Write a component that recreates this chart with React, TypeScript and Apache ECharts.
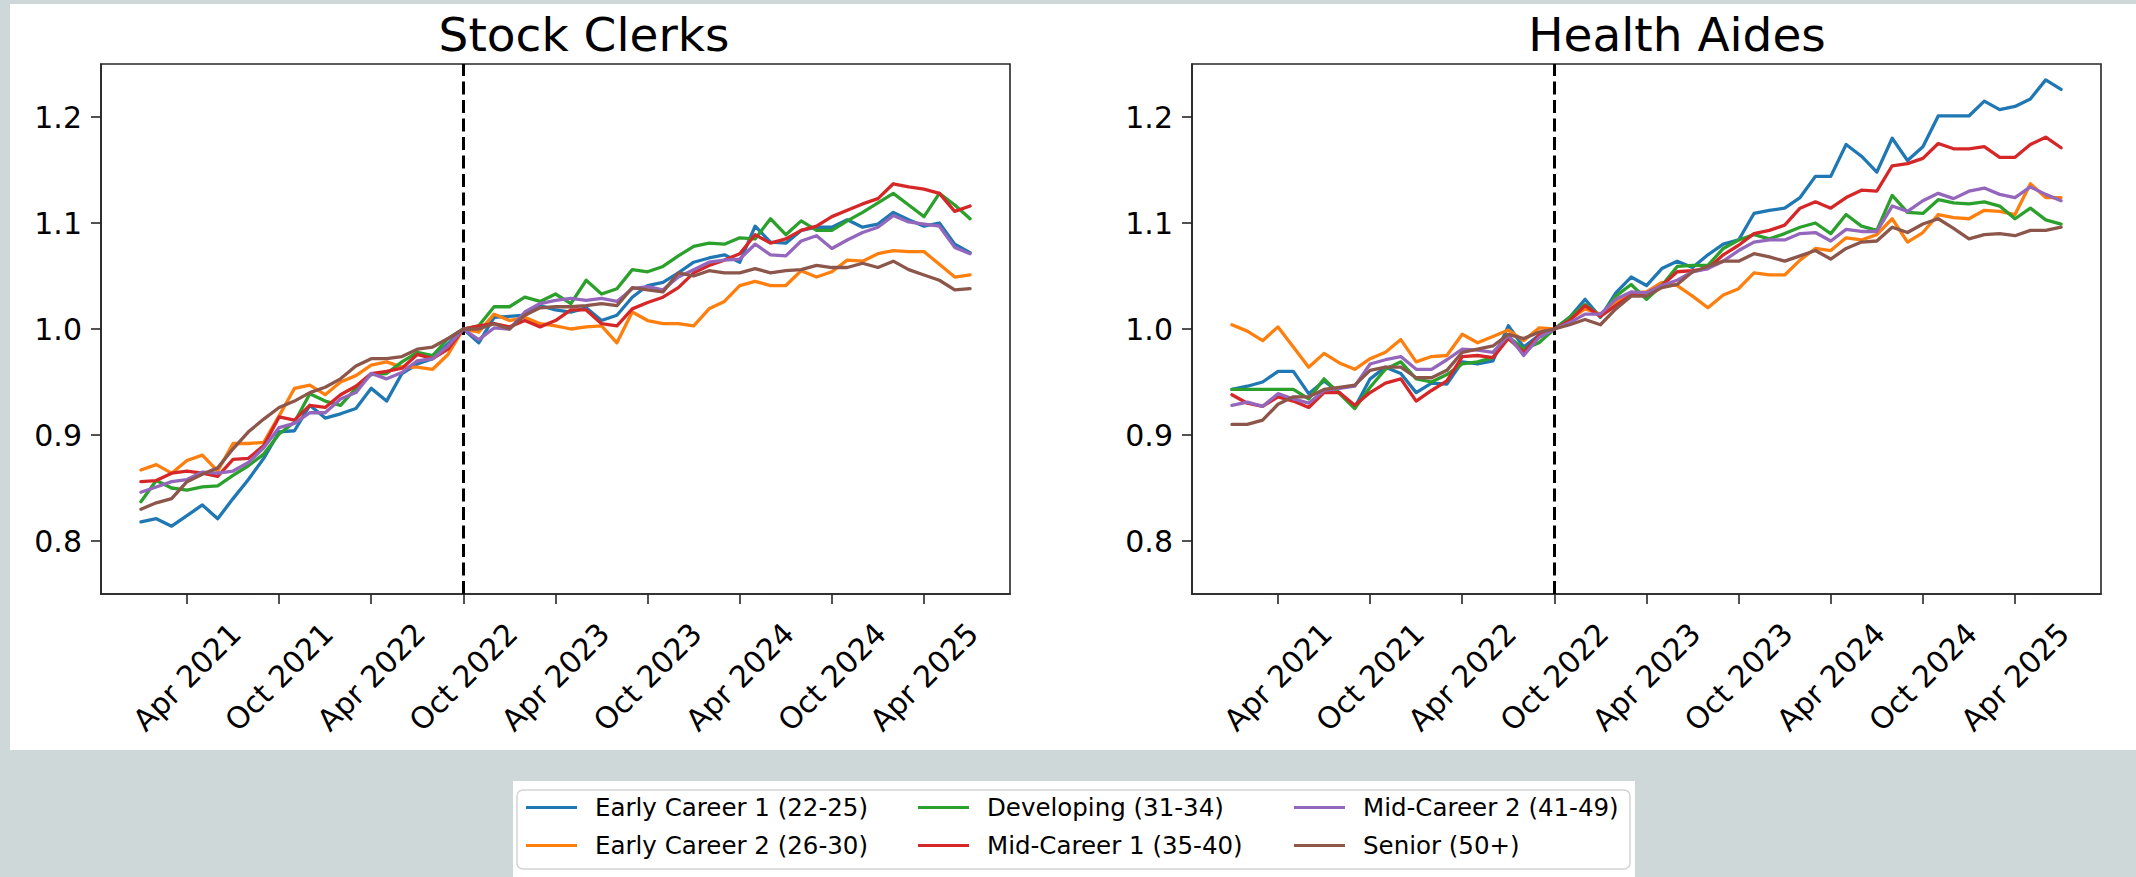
import React, { useEffect, useRef } from "react";
import * as echarts from "echarts";

// ---------- data ----------
const seriesNames = [
  "Early Career 1 (22-25)",
  "Early Career 2 (26-30)",
  "Developing (31-34)",
  "Mid-Career 1 (35-40)",
  "Mid-Career 2 (41-49)",
  "Senior (50+)",
];
const seriesColors = ["#1f77b4", "#ff7f0e", "#2ca02c", "#d62728", "#9467bd", "#8c564b"];
const panelTitles = ["Stock Clerks", "Health Aides"];

// month index 0 = Jan 2021 ... 54 = Jul 2025
const tickMonthIndex = [3, 9, 15, 21, 27, 33, 39, 45, 51];
const tickLabels = [
  "Apr 2021", "Oct 2021", "Apr 2022", "Oct 2022", "Apr 2023",
  "Oct 2023", "Apr 2024", "Oct 2024", "Apr 2025",
];
const yTicks = [0.8, 0.9, 1.0, 1.1, 1.2];
const baselineMonthIndex = 21; // Oct 2022

// Stock Clerks
const scEarly1 = [0.818,0.821,0.814,0.824,0.834,0.821,0.840,0.858,0.878,0.903,0.904,0.928,0.916,0.920,0.925,0.944,0.932,0.958,0.967,0.972,0.986,1.000,
  0.987,1.011,1.012,1.013,1.022,1.018,1.016,1.020,1.008,1.013,1.030,1.041,1.044,1.053,1.063,1.067,1.070,1.063,1.097,1.082,1.081,1.093,1.096,1.096,1.103,1.096,1.099,1.110,1.103,1.097,1.100,1.080,1.072];
const scEarly2 = [0.867,0.872,0.864,0.876,0.881,0.866,0.892,0.892,0.893,0.918,0.944,0.947,0.938,0.950,0.956,0.966,0.969,0.964,0.964,0.962,0.976,1.000,
  0.997,1.014,1.008,1.011,1.005,1.003,1.000,1.002,1.003,0.987,1.016,1.008,1.005,1.005,1.003,1.019,1.026,1.041,1.045,1.041,1.041,1.055,1.049,1.054,1.065,1.064,1.071,1.074,1.073,1.073,1.061,1.049,1.051];
const scDeveloping = [0.837,0.857,0.850,0.848,0.851,0.852,0.862,0.871,0.882,0.901,0.912,0.939,0.932,0.928,0.944,0.957,0.958,0.969,0.978,0.975,0.991,1.000,
  1.003,1.021,1.021,1.030,1.026,1.033,1.024,1.046,1.033,1.038,1.056,1.054,1.059,1.069,1.078,1.081,1.080,1.086,1.085,1.104,1.089,1.102,1.093,1.093,1.102,1.110,1.119,1.128,1.117,1.106,1.128,1.117,1.104];
const scMid1 = [0.856,0.857,0.864,0.866,0.864,0.861,0.877,0.878,0.890,0.917,0.914,0.928,0.926,0.938,0.946,0.958,0.960,0.963,0.976,0.972,0.981,1.000,
  1.003,1.005,1.002,1.008,1.002,1.008,1.018,1.018,1.005,1.003,1.019,1.025,1.030,1.039,1.053,1.060,1.065,1.071,1.089,1.081,1.085,1.093,1.097,1.106,1.112,1.118,1.123,1.137,1.134,1.132,1.128,1.111,1.116];
const scMid2 = [0.846,0.851,0.856,0.858,0.865,0.864,0.866,0.874,0.888,0.907,0.911,0.921,0.921,0.934,0.940,0.958,0.953,0.959,0.970,0.972,0.984,1.000,
  0.990,1.001,1.000,1.016,1.024,1.027,1.029,1.027,1.029,1.026,1.038,1.040,1.037,1.049,1.056,1.063,1.065,1.066,1.080,1.070,1.069,1.083,1.088,1.076,1.084,1.091,1.096,1.107,1.101,1.099,1.097,1.077,1.071];
const scSenior = [0.830,0.836,0.840,0.856,0.863,0.869,0.887,0.903,0.915,0.926,0.932,0.940,0.945,0.953,0.965,0.972,0.972,0.974,0.981,0.983,0.991,1.000,
  1.000,1.005,1.000,1.013,1.020,1.021,1.021,1.022,1.024,1.022,1.039,1.037,1.035,1.053,1.050,1.055,1.053,1.053,1.057,1.053,1.055,1.056,1.060,1.058,1.058,1.062,1.058,1.064,1.056,1.051,1.046,1.037,1.038];

// Health Aides
const haEarly1 = [0.943,0.946,0.950,0.960,0.960,0.939,0.951,0.940,0.926,0.953,0.964,0.958,0.940,0.949,0.948,0.969,0.967,0.970,1.003,0.983,0.994,1.000,
  1.011,1.028,1.011,1.034,1.049,1.041,1.057,1.064,1.058,1.070,1.080,1.084,1.109,1.112,1.114,1.124,1.144,1.144,1.174,1.163,1.148,1.180,1.159,1.172,1.201,1.201,1.201,1.215,1.207,1.210,1.217,1.235,1.226];
const haEarly2 = [1.004,0.998,0.989,1.002,0.983,0.964,0.977,0.968,0.962,0.972,0.978,0.990,0.969,0.974,0.975,0.995,0.987,0.993,0.999,0.989,1.001,1.000,
  1.009,1.019,1.014,1.025,1.034,1.035,1.044,1.041,1.031,1.020,1.032,1.038,1.053,1.051,1.051,1.065,1.076,1.074,1.086,1.084,1.089,1.104,1.082,1.091,1.108,1.105,1.104,1.112,1.111,1.108,1.137,1.124,1.124];
const haDeveloping = [0.943,0.943,0.943,0.943,0.943,0.934,0.953,0.939,0.925,0.945,0.962,0.969,0.953,0.950,0.957,0.967,0.969,0.973,0.993,0.981,0.987,1.000,
  1.011,1.023,1.012,1.031,1.042,1.028,1.041,1.059,1.060,1.060,1.076,1.084,1.089,1.085,1.090,1.096,1.100,1.090,1.108,1.097,1.093,1.126,1.110,1.109,1.122,1.119,1.118,1.120,1.116,1.104,1.114,1.103,1.099];
const haMid1 = [0.938,0.930,0.927,0.936,0.932,0.926,0.940,0.940,0.928,0.940,0.949,0.953,0.932,0.942,0.951,0.974,0.975,0.973,0.991,0.978,0.994,1.000,
  1.008,1.022,1.012,1.022,1.032,1.034,1.041,1.054,1.055,1.057,1.070,1.079,1.090,1.093,1.098,1.114,1.120,1.114,1.124,1.131,1.130,1.154,1.156,1.161,1.175,1.170,1.170,1.172,1.162,1.162,1.174,1.181,1.171];
const haMid2 = [0.928,0.931,0.927,0.939,0.934,0.930,0.942,0.944,0.946,0.967,0.971,0.974,0.962,0.962,0.971,0.981,0.980,0.978,0.994,0.975,0.992,1.000,
  1.006,1.014,1.014,1.028,1.035,1.034,1.041,1.046,1.054,1.057,1.064,1.074,1.082,1.084,1.084,1.090,1.091,1.083,1.094,1.092,1.092,1.116,1.111,1.121,1.128,1.123,1.130,1.133,1.127,1.124,1.134,1.127,1.121];
const haSenior = [0.910,0.910,0.914,0.929,0.936,0.936,0.943,0.945,0.947,0.961,0.964,0.964,0.954,0.954,0.961,0.978,0.981,0.984,0.995,0.991,0.997,1.000,
  1.004,1.009,1.004,1.019,1.031,1.031,1.039,1.042,1.054,1.059,1.064,1.064,1.071,1.068,1.064,1.069,1.074,1.066,1.076,1.082,1.083,1.096,1.091,1.099,1.104,1.095,1.085,1.089,1.090,1.088,1.093,1.093,1.096];

const stockClerks = [scEarly1, scEarly2, scDeveloping, scMid1, scMid2, scSenior];
const healthAides = [haEarly1, haEarly2, haDeveloping, haMid1, haMid2, haSenior];
const panels = [stockClerks, healthAides];

// ---------- styling ----------
const FONT = "DejaVu Sans";
const AXIS_COLOR = "#262626";
const gridLefts = [101, 1192];
const titleCenters = [584, 1677];

function tickLabelFor(v: number): string {
  const k = tickMonthIndex.indexOf(Math.round(v));
  return k >= 0 ? tickLabels[k] : "";
}

export default function App() {
  const ref = useRef<HTMLDivElement>(null);

  useEffect(() => {
    document.body.style.margin = "0";
    if (!ref.current) return;
    const chart = echarts.init(ref.current, null, { renderer: "svg" });

    const grids = gridLefts.map((left) => ({
      left,
      top: 64,
      width: 909,
      height: 530,
      show: true,
      borderColor: AXIS_COLOR,
      borderWidth: 1.6,
      backgroundColor: "#ffffff",
      outerBoundsMode: "none",
      containLabel: false,
    }));

    const xAxes = gridLefts.map((_, g) => ({
      type: "value",
      gridIndex: g,
      min: -2.6,
      max: 56.6,
      axisLine: { show: true, onZero: false, lineStyle: { color: AXIS_COLOR, width: 1.6 } },
      axisTick: {
        show: true,
        customValues: tickMonthIndex,
        length: 10,
        lineStyle: { color: AXIS_COLOR, width: 1.6 },
      },
      axisLabel: {
        show: true,
        customValues: tickMonthIndex,
        formatter: (v: number) => tickLabelFor(v),
        rotate: 45,
        align: "center",
        verticalAlign: "middle",
        margin: 83,
        fontSize: 30,
        fontFamily: FONT,
        color: "#000",
      },
      splitLine: { show: false },
    }));

    const yAxes = gridLefts.map((_, g) => ({
      type: "value",
      gridIndex: g,
      min: 0.75,
      max: 1.25,
      axisLine: { show: true, onZero: false, lineStyle: { color: AXIS_COLOR, width: 1.6 } },
      axisTick: {
        show: true,
        customValues: yTicks,
        length: 10,
        lineStyle: { color: AXIS_COLOR, width: 1.6 },
      },
      axisLabel: {
        show: true,
        customValues: yTicks,
        formatter: (v: number) => v.toFixed(1),
        margin: 19,
        fontSize: 30,
        fontFamily: FONT,
        color: "#000",
      },
      splitLine: { show: false },
    }));

    const series: any[] = [];
    panels.forEach((panel, g) => {
      panel.forEach((values, s) => {
        const item: any = {
          type: "line",
          name: seriesNames[s],
          xAxisIndex: g,
          yAxisIndex: g,
          data: values.map((v, i) => [i, v]),
          symbol: "none",
          showSymbol: false,
          color: seriesColors[s],
          itemStyle: { color: seriesColors[s] },
          lineStyle: { color: seriesColors[s], width: 3.3, join: "round", cap: "round" },
          silent: true,
          emphasis: { disabled: true },
          z: 2 + s,
        };
        if (s === panel.length - 1) {
          item.markLine = {
            silent: true,
            symbol: ["none", "none"],
            label: { show: false },
            lineStyle: { color: "#000", type: [13, 5.5], width: 3 },
            data: [{ xAxis: baselineMonthIndex }],
          };
        }
        series.push(item);
      });
    });

    const legendColumns = [
      { names: [seriesNames[0], seriesNames[1]], left: 526 },
      { names: [seriesNames[2], seriesNames[3]], left: 918 },
      { names: [seriesNames[4], seriesNames[5]], left: 1294 },
    ];
    const legends = legendColumns.map((c) => ({
      data: c.names,
      left: c.left,
      top: 795,
      orient: "vertical",
      icon: "rect",
      itemWidth: 51,
      itemHeight: 3,
      itemGap: 13,
      padding: 0,
      selectedMode: false,
      textStyle: {
        fontFamily: FONT,
        fontSize: 24.5,
        lineHeight: 25,
        color: "#000",
        padding: [0, 0, 0, 13],
      },
    }));

    const graphics: any[] = [
      {
        type: "rect",
        z: -100,
        silent: true,
        shape: { x: 10, y: 4, width: 2126, height: 746 },
        style: { fill: "#ffffff" },
      },
      {
        type: "rect",
        z: -100,
        silent: true,
        shape: { x: 513, y: 781, width: 1122, height: 96 },
        style: { fill: "#ffffff" },
      },
      {
        type: "rect",
        z: -90,
        silent: true,
        shape: { x: 517, y: 790, width: 1113, height: 79, r: 6 },
        style: { fill: "#ffffff", stroke: "#d4d4d4", lineWidth: 1.5 },
      },
      ...panelTitles.map((t, i) => ({
        type: "text",
        silent: true,
        x: titleCenters[i],
        y: 34,
        style: {
          text: t,
          fontSize: 47,
          fontFamily: FONT,
          fill: "#000",
          align: "center",
          verticalAlign: "middle",
        },
      })),
    ];

    chart.setOption({
      animation: false,
      backgroundColor: "#cfd8d9",
      textStyle: { fontFamily: FONT },
      grid: grids,
      xAxis: xAxes,
      yAxis: yAxes,
      legend: legends,
      series,
      graphic: graphics,
    });

    return () => {
      chart.dispose();
    };
  }, []);

  return (
    <div style={{ position: "fixed", left: 0, top: 0, width: 2136, height: 877, margin: 0, padding: 0 }}>
      <div ref={ref} style={{ position: "absolute", left: 0, top: 0, width: 2136, height: 877 }} />
    </div>
  );
}
